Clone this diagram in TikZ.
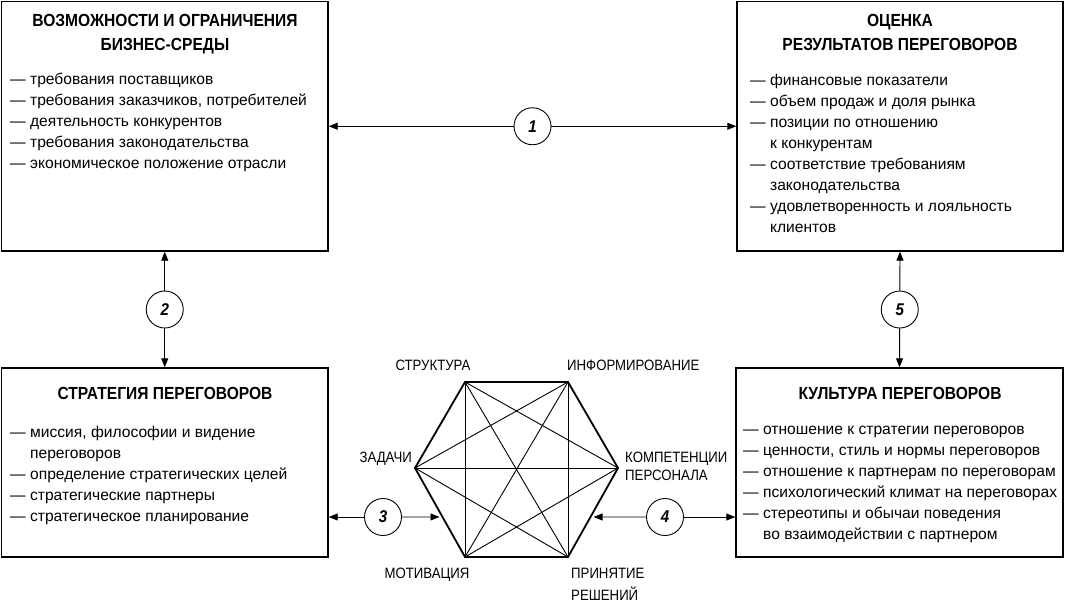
\documentclass[tikz,border=0pt]{standalone}
\usepackage{fontspec}
\setmainfont{Liberation Sans}
\newfontfamily\ttlfont{Liberation Sans}[FakeStretch=0.89]
\newfontfamily\lblfont{Liberation Sans}[FakeStretch=0.88]
\usetikzlibrary{arrows.meta,calc}
\newcommand\contind{\phantom{—\space}}
\tikzset{
  x=1pt,y=-1pt,
  box/.style={draw, line width=1.4pt, inner sep=0pt},
  ttl/.style={inner sep=0pt, anchor=base, font=\ttlfont\fontsize{17.5}{24}\selectfont\bfseries},
  body/.style={inner sep=0pt, anchor=base west, font=\fontsize{15.6}{21}\selectfont},
  lbl/.style={inner sep=0pt, font=\lblfont\fontsize{15}{18}\selectfont},
  num/.style={draw, circle, line width=0.9pt, minimum size=37pt, inner sep=0pt, fill=white, font=\ttlfont\fontsize{17}{17}\selectfont\bfseries\itshape},
  conn/.style={line width=0.9pt, -{Triangle[length=9pt,width=7pt]}},
  side/.style={line width=1.8pt, line join=miter},
  diag/.style={line width=0.9pt}
}
\begin{document}
\begin{tikzpicture}
\useasboundingbox (0,0) rectangle (1065,614);
% boxes
\node[box, minimum width=326.5pt, minimum height=249.5pt] (tl) at (164.75,126.25) {};
\node[box, minimum width=326pt, minimum height=249.5pt] (tr) at (900,126.25) {};
\node[box, minimum width=326.5pt, minimum height=189pt] (bl) at (164.75,462.5) {};
\node[box, minimum width=327pt, minimum height=189pt] (br) at (899.5,462.5) {};
% titles
\node[ttl] (tlh) at (165,26.5) {\parbox[t]{320pt}{\centering ВОЗМОЖНОСТИ И ОГРАНИЧЕНИЯ\\БИЗНЕС-СРЕДЫ}};
\node[ttl] (trh) at (900,26.5) {\parbox[t]{320pt}{\centering ОЦЕНКА\\РЕЗУЛЬТАТОВ ПЕРЕГОВОРОВ}};
\node[ttl] (blh) at (165,399.5) {\parbox[t]{320pt}{\centering СТРАТЕГИЯ ПЕРЕГОВОРОВ}};
\node[ttl] (brh) at (900,399.5) {\parbox[t]{320pt}{\centering КУЛЬТУРА ПЕРЕГОВОРОВ}};
% bodies
\node[body] (tlb) at (10,84) {\parbox[t]{318pt}{%
— требования поставщиков\\
— требования заказчиков, потребителей\\
— деятельность конкурентов\\
— требования законодательства\\
— экономическое положение отрасли}};
\node[body] (trb) at (750,85) {\parbox[t]{312pt}{%
— финансовые показатели\\
— объем продаж и доля рынка\\
— позиции по отношению\\
\contind к конкурентам\\
— соответствие требованиям\\
\contind законодательства\\
— удовлетворенность и лояльность\\
\contind клиентов}};
\node[body] (blb) at (10,437) {\parbox[t]{318pt}{%
— миссия, философии и видение\\
\contind переговоров\\
— определение стратегических целей\\
— стратегические партнеры\\
— стратегическое планирование}};
\node[body] (brb) at (743,434) {\parbox[t]{322pt}{%
— отношение к стратегии переговоров\\
— ценности, стиль и нормы переговоров\\
— отношение к партнерам по переговорам\\
— психологический климат на переговорах\\
— стереотипы и обычаи поведения\\
\contind во взаимодействии с партнером}};
% hexagon
\coordinate (hA) at (465,382);
\coordinate (hB) at (568,382);
\coordinate (hC) at (618,468);
\coordinate (hD) at (568,557);
\coordinate (hE) at (465,557);
\coordinate (hF) at (415,468);
\foreach \p/\q in {hA/hC,hA/hD,hA/hE,hB/hD,hB/hE,hB/hF,hC/hE,hC/hF,hD/hF}
  \draw[diag] (\p) -- (\q);
\draw[side] (hA) -- (hB) -- (hC) -- (hD) -- (hE) -- (hF) -- cycle;
% hexagon labels
\node[lbl, anchor=base] (lA) at (433,370) {СТРУКТУРА};
\node[lbl, anchor=base west] (lB) at (567,370) {ИНФОРМИРОВАНИЕ};
\node[lbl, anchor=base east] (lF) at (412,462.5) {ЗАДАЧИ};
\node[lbl, anchor=base west] (lC1) at (625,462.5) {КОМПЕТЕНЦИИ};
\node[lbl, anchor=base west] (lC2) at (625,480.5) {ПЕРСОНАЛА};
\node[lbl, anchor=base] (lE) at (427,578) {МОТИВАЦИЯ};
\node[lbl, anchor=base west] (lD1) at (571,578) {ПРИНЯТИЕ};
\node[lbl, anchor=base west] (lD2) at (571,600.5) {РЕШЕНИЙ};
% numbered circles
\node[num] (c1) at ($(tl.east)!0.5!(tr.west)$) {1};
\node[num] (c2) at ($(tl.south)!0.5!(bl.north)$) {2};
\node[num] (c5) at ($(tr.south)!0.5!(br.north)$) {5};
\node[num] (c3) at (383,517) {3};
\node[num] (c4) at (665,517) {4};
\coordinate (p3) at ($(hF)!0.55!(hE)$);
\coordinate (p4) at ($(hC)!0.55!(hD)$);
% connectors
\draw[conn] (c1) -- (tl.east);
\draw[conn] (c1) -- (tr.west);
\draw[conn] (c2) -- (tl.south);
\draw[conn] (c2) -- (bl.north);
\draw[conn] (c5) -- (tr.south);
\draw[conn] (c5) -- (br.north);
\draw[conn] (c3) -- (bl.east |- c3);
\draw[conn, shorten >=3pt] (c3) -- (p3);
\draw[conn] (c4) -- (br.west |- c4);
\draw[conn, shorten >=3pt] (c4) -- (p4);
\end{tikzpicture}
\end{document}
